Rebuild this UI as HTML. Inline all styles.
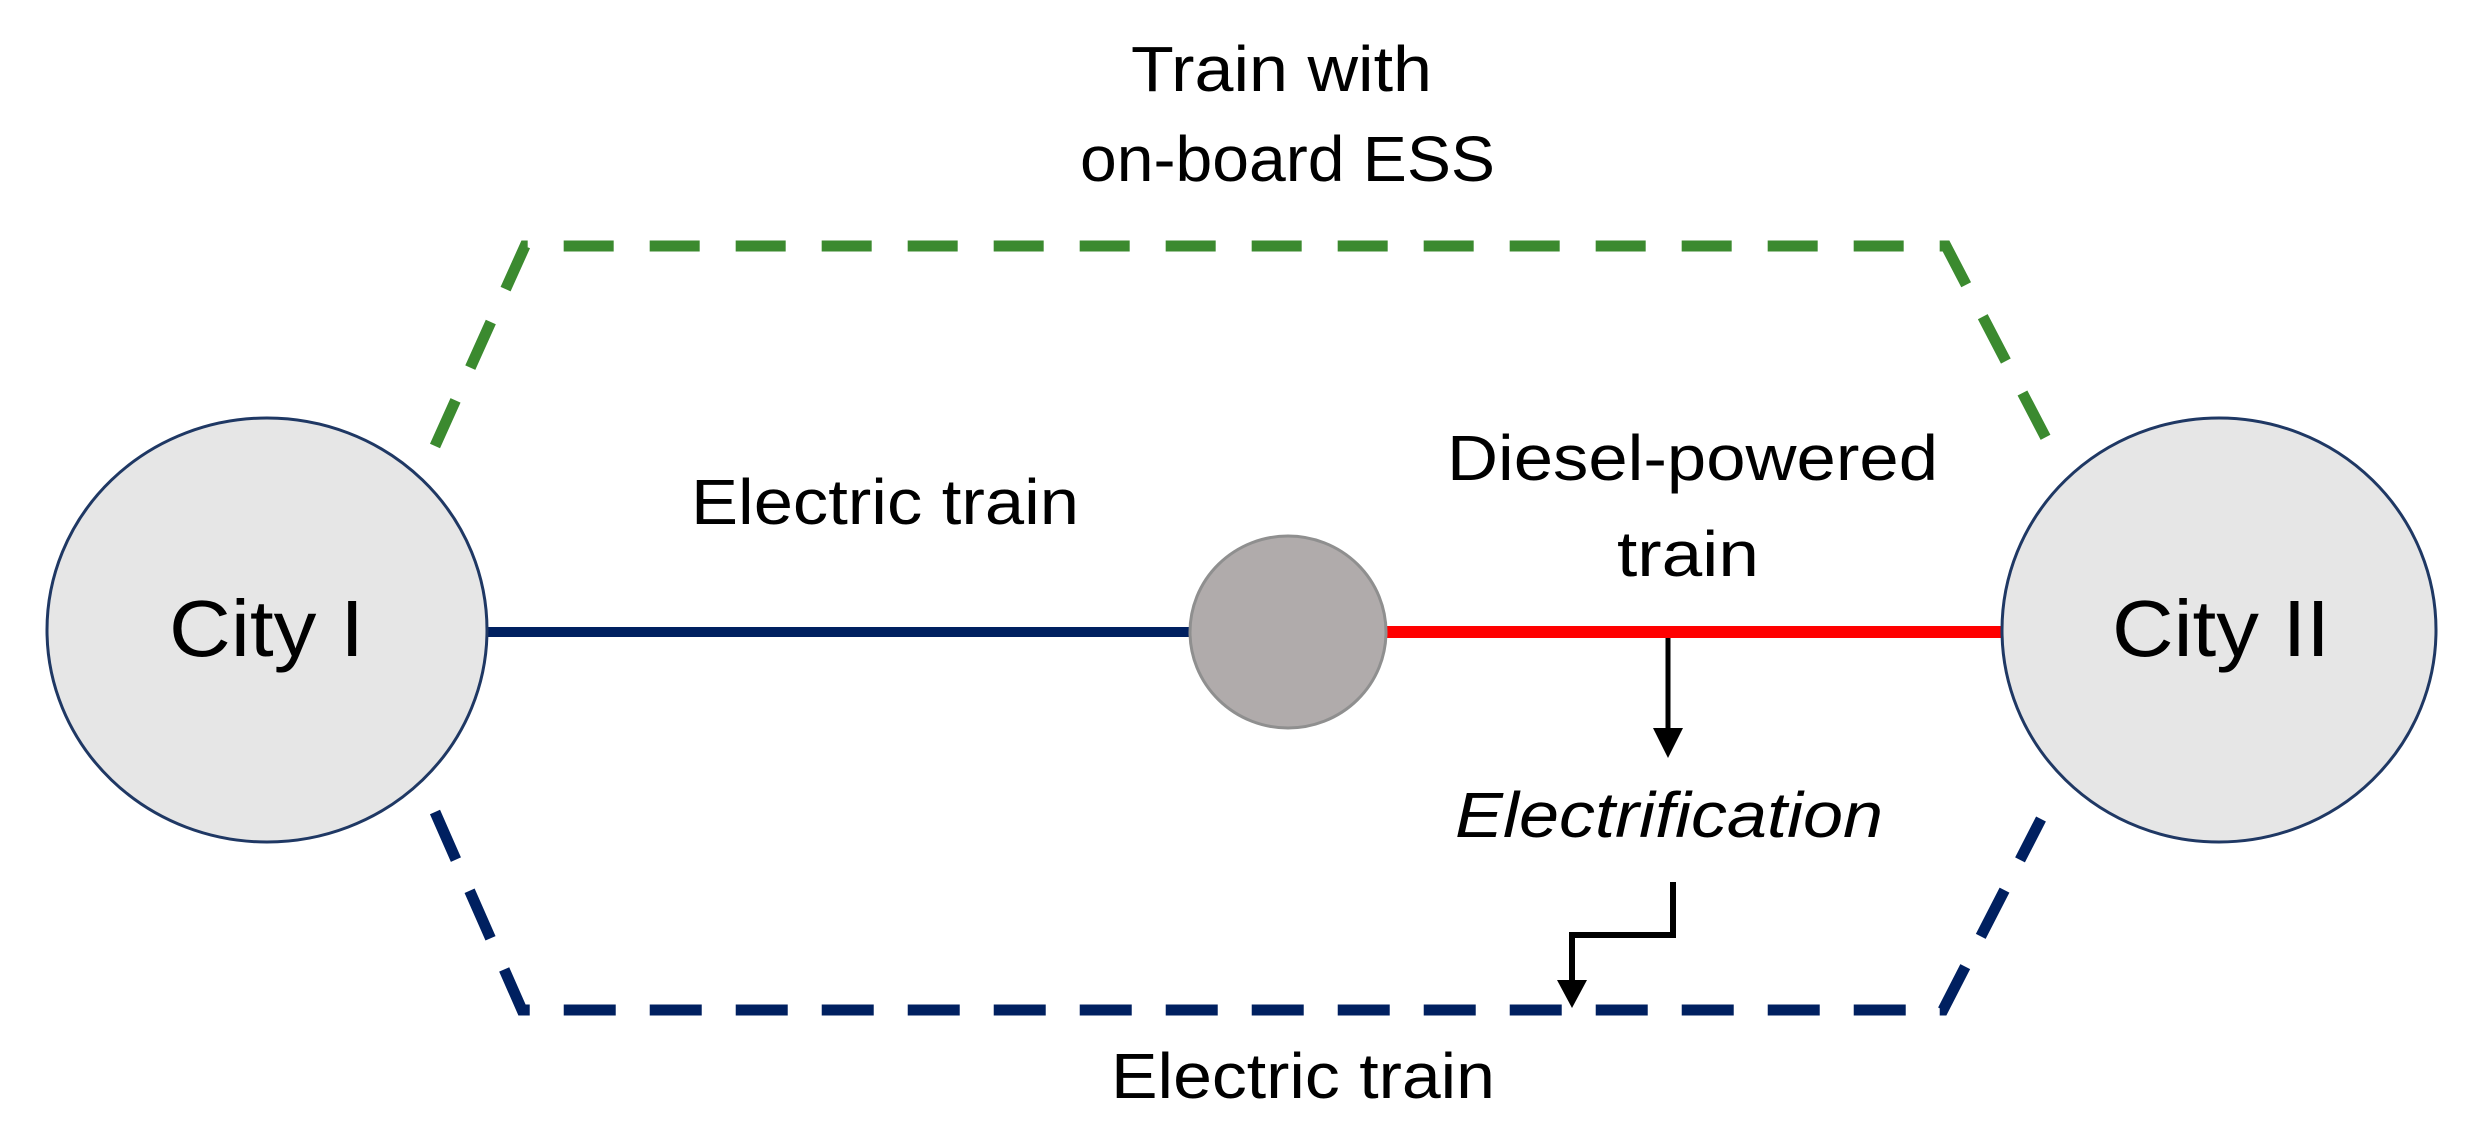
<!DOCTYPE html>
<html><head><meta charset="utf-8"><style>html,body{margin:0;padding:0;background:#fff}svg{display:block}</style></head>
<body>
<svg width="2481" height="1137" viewBox="0 0 2481 1137" xmlns="http://www.w3.org/2000/svg" font-family="'Liberation Sans', sans-serif" fill="#000">
<polyline points="435,446 525,246 1946,246 2049,444" fill="none" stroke="#3b8a2f" stroke-width="11" stroke-dasharray="50,36"/>
<polyline points="435,812 522,1010 1943,1010 2041,819" fill="none" stroke="#002060" stroke-width="11" stroke-dasharray="52,34"/>
<line x1="487" y1="632" x2="1190" y2="632" stroke="#002060" stroke-width="10"/>
<line x1="1385" y1="632" x2="2003" y2="632" stroke="#ff0000" stroke-width="12"/>
<ellipse cx="267" cy="630" rx="220" ry="212" fill="#e6e6e6" stroke="#1f3864" stroke-width="3"/>
<ellipse cx="2219" cy="630" rx="217" ry="212" fill="#e6e6e6" stroke="#1f3864" stroke-width="3"/>
<ellipse cx="1288" cy="632" rx="98" ry="96" fill="#b0abab" stroke="#8f8f8f" stroke-width="3"/>
<line x1="1668" y1="638" x2="1668" y2="735" stroke="#000" stroke-width="5"/>
<polygon points="1653,728 1683,728 1668,758" fill="#000"/>
<polyline points="1673,882 1673,935 1572,935 1572,988" fill="none" stroke="#000" stroke-width="6"/>
<polygon points="1557,980 1587,980 1572,1008" fill="#000"/>
<g font-size="64">
<text x="1131" y="91" textLength="301" lengthAdjust="spacingAndGlyphs">Train with</text>
<text x="1080" y="181" textLength="415" lengthAdjust="spacingAndGlyphs">on-board ESS</text>
<text x="691" y="524" textLength="388" lengthAdjust="spacingAndGlyphs">Electric train</text>
<text x="1447" y="480" textLength="491" lengthAdjust="spacingAndGlyphs">Diesel-powered</text>
<text x="1617" y="576" textLength="142" lengthAdjust="spacingAndGlyphs">train</text>
<text x="1455" y="837" font-style="italic" textLength="428" lengthAdjust="spacingAndGlyphs">Electrification</text>
<text x="1111" y="1098" textLength="384" lengthAdjust="spacingAndGlyphs">Electric train</text>
</g>
<g font-size="80">
<text x="169" y="656" textLength="195" lengthAdjust="spacingAndGlyphs">City I</text>
<text x="2112" y="656" textLength="218" lengthAdjust="spacingAndGlyphs">City II</text>
</g>
</svg>
</body></html>
